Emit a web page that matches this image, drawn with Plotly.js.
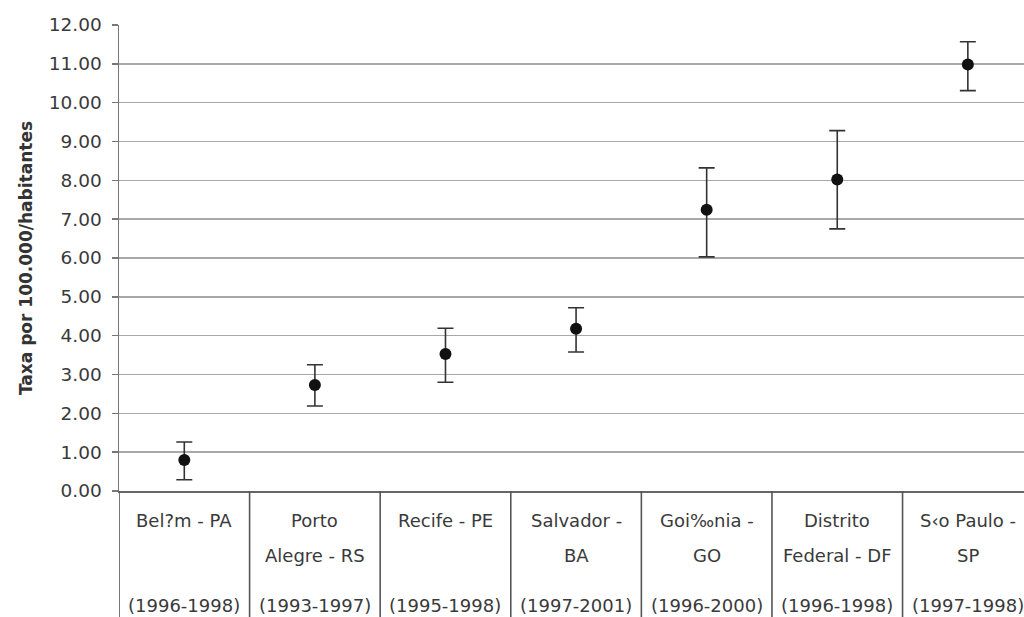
<!DOCTYPE html>
<html>
<head>
<meta charset="utf-8">
<script src="https://cdn.plot.ly/plotly-3.0.1.min.js"></script>
<style>html,body{margin:0;padding:0;overflow:hidden;background:#fff;}</style>
</head>
<body>
<div id="chart" style="width:1024px;height:617px;"></div>
<script>
// Data
const categories = ["Belém", "Porto Alegre", "Recife", "Salvador", "Goiânia", "Distrito Federal", "São Paulo"];
const labelLine1 = ["Bel?m - PA", "Porto", "Recife - PE", "Salvador -", "Goi‰nia -", "Distrito", "S‹o Paulo -"];
const labelLine2 = ["", "Alegre - RS", "", "BA", "GO", "Federal - DF", "SP"];
const periods = ["(1996-1998)", "(1993-1997)", "(1995-1998)", "(1997-2001)", "(1996-2000)", "(1996-1998)", "(1997-1998)"];
const rates = [0.80, 2.73, 3.53, 4.18, 7.24, 8.02, 10.98];
const upper = [1.26, 3.25, 4.19, 4.72, 8.32, 9.28, 11.57];
const lower = [0.29, 2.19, 2.80, 3.58, 6.03, 6.75, 10.31];
const yTicks = [0,1,2,3,4,5,6,7,8,9,10,11,12];

const errPlus = rates.map((v, i) => upper[i] - v);
const errMinus = rates.map((v, i) => v - lower[i]);

const trace = {
  type: "scatter",
  mode: "markers",
  x: categories,
  y: rates,
  marker: {color: "#111", size: 12},
  error_y: {type: "data", array: errPlus, arrayminus: errMinus, visible: true,
            color: "#333", thickness: 1.6, width: 8},
  hoverinfo: "x+y",
  showlegend: false
};

const txtFont = {family: "DejaVu Sans, Liberation Sans, Arial", size: 18, color: "#3a3a3a"};
const annotations = [];
const shapes = [];
const H = 466; // plot height in px
const bottomPaper = -126 / H;
categories.forEach((c, i) => {
  annotations.push({x: c, xref: "x", y: (491 - 520) / H, yref: "paper", text: labelLine1[i],
    showarrow: false, font: txtFont, xanchor: "center", yanchor: "middle"});
  if (labelLine2[i]) annotations.push({x: c, xref: "x", y: (491 - 555) / H, yref: "paper", text: labelLine2[i],
    showarrow: false, font: txtFont, xanchor: "center", yanchor: "middle"});
  annotations.push({x: c, xref: "x", y: (491 - 605) / H, yref: "paper", text: periods[i],
    showarrow: false, font: txtFont, xanchor: "center", yanchor: "middle"});
});
for (let i = 0; i <= categories.length; i++) {
  shapes.push({type: "line", xref: "x", yref: "paper", x0: i - 0.5, x1: i - 0.5, y0: 0, y1: bottomPaper,
    line: {color: "#555", width: 1.6}});
}

const layout = {
  width: 1024, height: 617,
  margin: {l: 119, r: 0, t: 25, b: 126},
  paper_bgcolor: "#fff", plot_bgcolor: "#fff",
  font: {family: "DejaVu Sans, Liberation Sans, Arial", color: "#333"},
  xaxis: {type: "category", range: [-0.5, 6.43], showticklabels: false, showgrid: false,
          showline: true, linecolor: "#666", linewidth: 2, ticks: "", zeroline: false, fixedrange: true},
  yaxis: {range: [0, 12], tickvals: yTicks, tickformat: ".2f", showgrid: true, gridcolor: "#a8a8a8", gridwidth: 1.6,
          showline: true, linecolor: "#777", linewidth: 1.5, ticks: "outside", ticklen: 6, tickcolor: "#777",
          tickwidth: 1.5, ticklabelstandoff: 6, tickfont: {size: 18.5, color: "#3a3a3a"}, zeroline: false,
          title: {text: "<b>Taxa por 100.000/habitantes</b>", font: {size: 17, color: "#333"}, standoff: 12}},
  annotations: annotations,
  shapes: shapes
};

Plotly.newPlot("chart", [trace], layout, {displayModeBar: false, staticPlot: true});
</script>
</body>
</html>
